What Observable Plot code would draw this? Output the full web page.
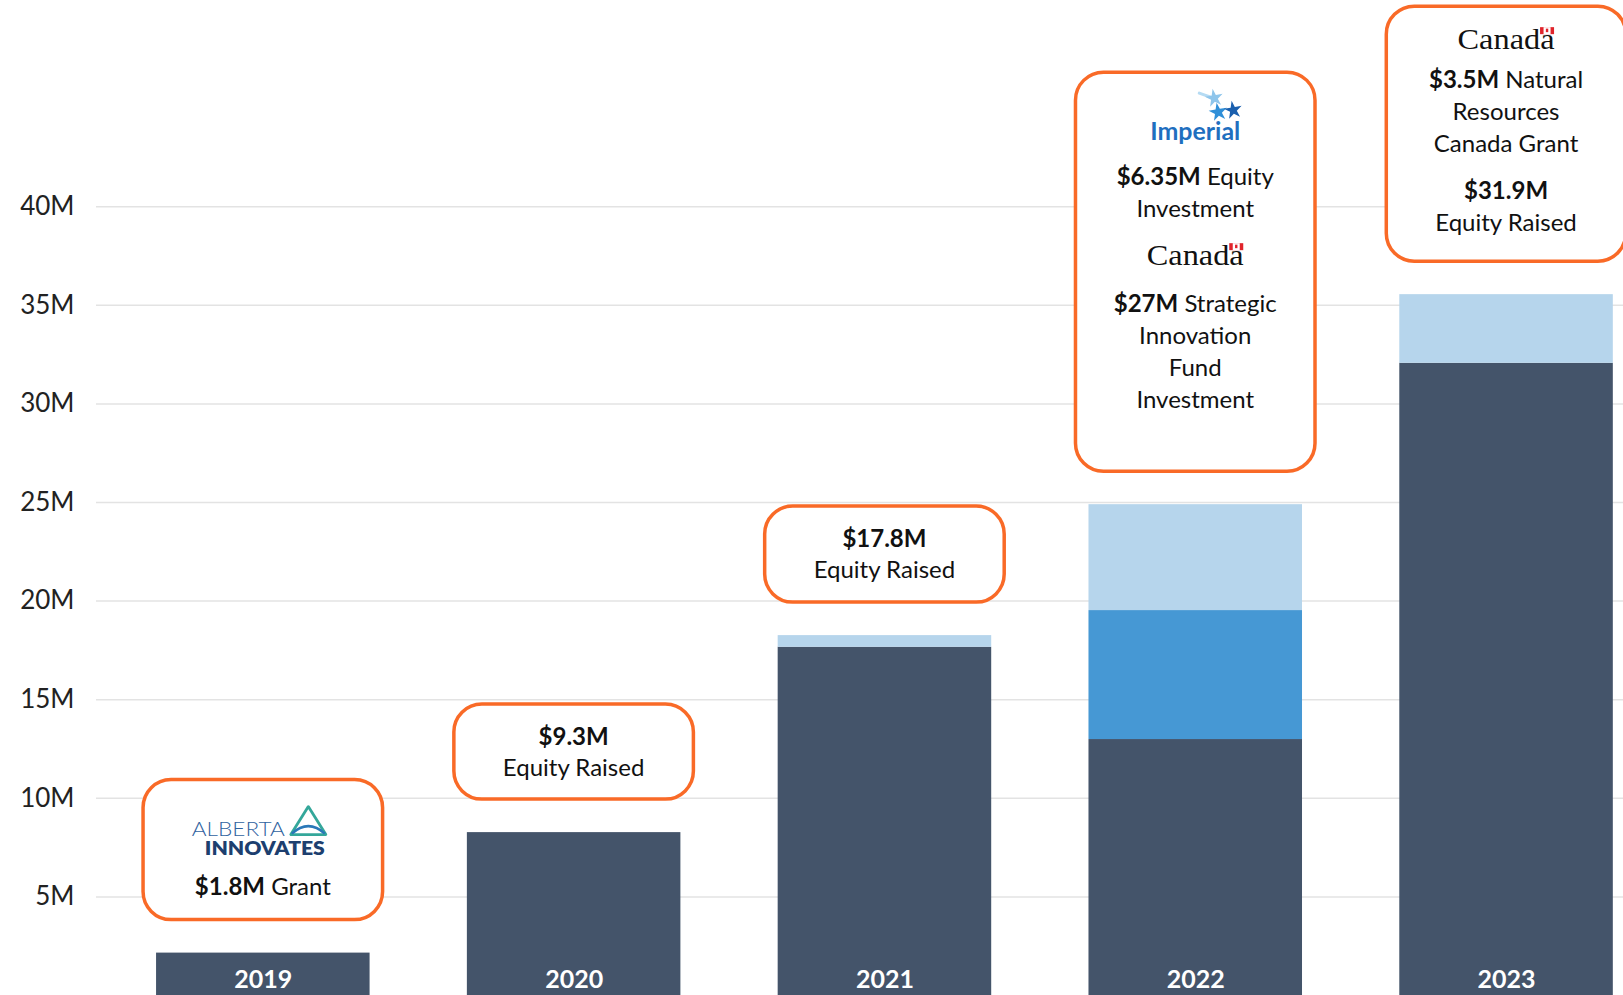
<!DOCTYPE html>
<html><head><meta charset="utf-8">
<script src="https://cdn.jsdelivr.net/npm/d3@7"></script>
<script src="https://cdn.jsdelivr.net/npm/@observablehq/plot@0.6"></script>
<style>
html,body{margin:0;padding:0;background:#fff;overflow:hidden}
</style>
</head><body><div id="chart"></div>
<script>
// ---------- data ----------
const years = ["2019", "2020", "2021", "2022", "2023"];
const seriesNames = ["Equity & grants", "Imperial investment", "Government funding"];
const darkValues  = [2.15, 8.26, 17.66, 12.98, 32.06];
const midValues   = [0,    0,    0,     6.54,  0];
const lightValues = [0,    0,    0.59,  5.37,  3.48];
const yTicks = [5, 10, 15, 20, 25, 30, 35, 40];
const tickLabels = ["5M", "10M", "15M", "20M", "25M", "30M", "35M", "40M"];

// callout contents (one entry per row)
const callout2019 = [{logo: "alberta"}, {bold: "$1.8M", text: " Grant"}];
const callout2020 = [{bold: "$9.3M"}, {text: "Equity Raised"}];
const callout2021 = [{bold: "$17.8M"}, {text: "Equity Raised"}];
const callout2022 = [{logo: "imperial"}, {bold: "$6.35M", text: " Equity"}, {text: "Investment"},
  {logo: "canada"}, {bold: "$27M", text: " Strategic"}, {text: "Innovation"}, {text: "Fund"}, {text: "Investment"}];
const callout2023 = [{logo: "canada"}, {bold: "$3.5M", text: " Natural"}, {text: "Resources"},
  {text: "Canada Grant"}, {bold: "$31.9M"}, {text: "Equity Raised"}];
const callouts = [callout2019, callout2020, callout2021, callout2022, callout2023];

// ---------- layout / style (pixels) ----------
const boxLayout = [
  {h: 140, rows: [75, 115]},
  {h: 95,  rows: [41, 72]},
  {h: 96,  rows: [41, 72]},
  {h: 399, rows: [68, 112.5, 144.5, 193, 239.5, 272, 304, 336]},
  {h: 255, rows: [43, 81.5, 113.5, 145.5, 193, 225]}
];
const boxGap = 33, boxOverhang = 13, boxRadius = 28;
const orange = "#F96A27";
const colors = ["#44546A", "#4698D4", "#B6D5EC"];
const font = "Lato, 'Open Sans', sans-serif";

const rows = years.flatMap((yr, i) => [
  {year: yr, series: seriesNames[0], value: darkValues[i]},
  {year: yr, series: seriesNames[1], value: midValues[i]},
  {year: yr, series: seriesNames[2], value: lightValues[i]}
]).filter(d => d.value > 0);

function drawAlberta(g, cx, b) {
  const t = g.append("text").attr("text-anchor", "start").attr("font-family", font);
  t.append("tspan").attr("x", cx - 71).attr("y", b - 19)
    .attr("textLength", 93).attr("lengthAdjust", "spacingAndGlyphs")
    .attr("font-weight", 300).attr("font-size", 20).attr("fill", "#2f62a0").text("ALBERTA");
  t.append("tspan").attr("x", cx - 58).attr("y", b)
    .attr("textLength", 120).attr("lengthAdjust", "spacingAndGlyphs")
    .attr("font-weight", 800).attr("font-size", 19).attr("fill", "#1d3f6f").text("INNOVATES");
  g.append("path").attr("d", `M${cx + 45.5},${b - 48} L${cx + 28},${b - 20} L${cx + 63},${b - 20} Z`)
    .attr("fill", "none").attr("stroke", "#34a79a").attr("stroke-width", 2.8).attr("stroke-linejoin", "round");
  g.append("path").attr("d", `M${cx + 29},${b - 21} Q${cx + 45.5},${b - 36} ${cx + 62},${b - 21}`)
    .attr("fill", "none").attr("stroke", "#2a78b8").attr("stroke-width", 2.6);
}
function drawImperial(g, cx, b) {
  g.append("path").attr("d", `M${cx + 4},${b - 47} Q${cx + 12},${b - 44} ${cx + 19},${b - 42}`)
    .attr("fill", "none").attr("stroke", "#b5dbf3").attr("stroke-width", 3).attr("stroke-linecap", "round");
  const stars = [[19, -42, "#8ec5eb", 100], [23, -28, "#2f8fd8", 105], [38, -30, "#1a5fae", 100]];
  for (const [dx, dy, c, s] of stars) {
    g.append("path").attr("d", d3.symbol(d3.symbolStar, s)())
      .attr("transform", `translate(${cx + dx},${b + dy}) rotate(-10)`).attr("fill", c);
  }
  g.append("text").attr("x", cx).attr("y", b).attr("text-anchor", "middle").attr("textLength", 90).attr("lengthAdjust", "spacingAndGlyphs")
    .attr("font-family", font).attr("font-weight", 700).attr("font-size", 25).attr("fill", "#1f6fbf").text("Imperial");
}
function drawCanada(g, cx, b) {
  g.append("text").attr("x", cx - 48.5).attr("y", b).attr("text-anchor", "start")
    .attr("textLength", 97).attr("lengthAdjust", "spacingAndGlyphs")
    .attr("font-family", "'Liberation Serif', 'DejaVu Serif', serif").attr("font-size", 29).attr("fill", "#111").text("Canada");
  g.append("rect").attr("x", cx + 34).attr("y", b - 22).attr("width", 14).attr("height", 7).attr("fill", "#e0242b");
  g.append("rect").attr("x", cx + 37.5).attr("y", b - 22).attr("width", 7).attr("height", 7).attr("fill", "#fff");
  g.append("rect").attr("x", cx + 39.8).attr("y", b - 20.5).attr("width", 2.4).attr("height", 3.5).attr("fill", "#e0242b");
}

function annotations(index, scales) {
  const g = d3.create("svg:g");
  const x = scales.x, y = scales.y;
  const bw = typeof x.bandwidth === "function" ? x.bandwidth() : x.bandwidth;
  years.forEach((yr, i) => {
    const total = darkValues[i] + midValues[i] + lightValues[i];
    const cx = x(yr) + bw / 2;
    const L = boxLayout[i];
    const bottom = y(total) - boxGap;
    const top = bottom - L.h;
    g.append("rect").attr("x", cx - bw / 2 - boxOverhang).attr("y", top)
      .attr("width", bw + 2 * boxOverhang).attr("height", L.h).attr("rx", boxRadius).attr("ry", boxRadius)
      .attr("fill", "#fff").attr("stroke", orange).attr("stroke-width", 3.5);
    callouts[i].forEach((row, j) => {
      const b = top + L.rows[j];
      if (row.logo === "alberta") return drawAlberta(g, cx, b);
      if (row.logo === "imperial") return drawImperial(g, cx, b);
      if (row.logo === "canada") return drawCanada(g, cx, b);
      const t = g.append("text").attr("x", cx).attr("y", b).attr("text-anchor", "middle")
        .attr("font-family", font).attr("font-size", 24).attr("fill", "#111");
      if (row.bold) t.append("tspan").attr("font-weight", 700).text(row.bold);
      if (row.text) t.append("tspan").attr("font-weight", 400).attr("xml:space", "preserve").text(row.text);
    });
  });
  return g.node();
}

const chart = Plot.plot({
  width: 1623,
  height: 995,
  marginTop: 9,
  marginBottom: 0,
  marginLeft: 96,
  marginRight: 0,
  style: {fontFamily: font, fontSize: "26px", color: "#222", background: "#fff"},
  x: {domain: years, paddingInner: 0.313, paddingOuter: 0.113, align: 0.855, round: false, axis: null},
  y: {domain: [0, 50], ticks: yTicks, tickSize: 0, tickPadding: 22, label: null,
      tickFormat: d => tickLabels[yTicks.indexOf(d)]},
  color: {domain: seriesNames, range: colors},
  marks: [
    Plot.ruleY(yTicks, {stroke: "#e3e3e3", strokeWidth: 1.5}),
    Plot.barY(rows, {x: "year", y: "value", fill: "series", order: seriesNames}),
    Plot.text(years, {x: d => d, y: 0, text: d => d, dy: -8, lineAnchor: "bottom",
      fill: "#fff", fontWeight: 700, fontSize: 25, fontFamily: font}),
    annotations
  ]
});
document.getElementById("chart").appendChild(chart);
</script>
</body></html>
